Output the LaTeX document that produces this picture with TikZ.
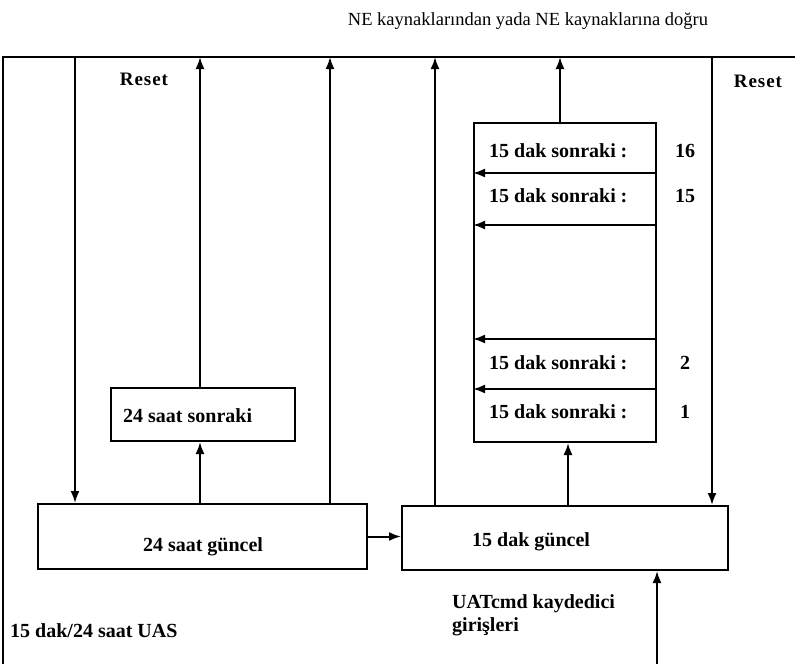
\documentclass[tikz,border=0pt]{standalone}
\usepackage{fontspec}
\setmainfont{Liberation Serif}
\usetikzlibrary{arrows.meta}

\tikzset{
  box/.style={draw, rectangle, line width=2pt, inner sep=0pt},
  flow/.style={line width=2pt, -{Latex[length=12pt,width=9pt]}},
  lbl/.style={font=\bfseries\fontsize{20}{22}\selectfont, inner sep=0pt},
}

\begin{document}
\begin{tikzpicture}[x=1pt, y=-1pt]
  \useasboundingbox (0,0) rectangle (795,664);
  \node[inner sep=0pt, anchor=base, font=\fontsize{18.5}{20}\selectfont] (title) at (528,25) {NE kaynaklarından yada NE kaynaklarına doğru};

  % outer frame
  \draw[line width=2pt] (3,664) -- (3,57) -- (795,57);
  \node[lbl, anchor=base, font=\bfseries\fontsize{19}{21}\selectfont\addfontfeatures{LetterSpace=5}] (resetL) at (144,85) {Reset};
  \node[lbl, anchor=base, font=\bfseries\fontsize{19}{21}\selectfont\addfontfeatures{LetterSpace=5}] (resetR) at (758,87) {Reset};
  \node[lbl, anchor=base west] (uas) at (10,637) {15 dak/24 saat UAS};

  % the boxes
  \node[box, minimum width=329pt, minimum height=65pt] (cur24) at (202.5,536.5) {};
  \node[box, minimum width=184pt, minimum height=53pt] (next24) at (203,414.5) {};
  \node[box, minimum width=326pt, minimum height=64pt] (cur15) at (565,538) {};
  \node[box, minimum width=182pt, minimum height=319pt] (stack) at (565,282.5) {};

  \node[lbl, anchor=base] (cur24txt) at (203,551) {24 saat güncel};
  \node[lbl, anchor=base west] (next24txt) at (123,422) {24 saat sonraki};
  \node[lbl, anchor=base west] (cur15txt) at (472,546) {15 dak güncel};
  \node[lbl, anchor=base west] (uat) at (452,608) {UATcmd kaydedici};
  \node[lbl, anchor=base west] (uat2) at (452,631) {girişleri};

  % the 15 minute registers
  \foreach \y/\n [count=\i] in {157/16,202/15,369/2,418/1} {
    \node[lbl, anchor=base west] (row\i) at (489,\y) {15 dak sonraki};
    \node[lbl, anchor=base] (col\i) at (624,\y) {:};
    \node[lbl, anchor=base] (num\i) at (685,\y) {\n};
  }
  \foreach \y in {173,225,339,389}
    \draw[flow] (stack.east |- 0,\y) -- (stack.west |- 0,\y);

  % Draw the connections
  \coordinate (rstL) at (75,57);
  \coordinate (rstR) at (712,57);
  \coordinate (up24) at (200,57);
  \coordinate (upA) at (330,57);
  \coordinate (upB) at (435,57);
  \coordinate (upC) at (560,57);
  \coordinate (in15) at (657,664);
  \draw[flow] (rstL) -- (rstL |- cur24.north);
  \draw[flow] (rstR) -- (rstR |- cur15.north);
  \draw[flow] (up24 |- next24.north) -- (up24);
  \draw[flow] (up24 |- cur24.north) -- (up24 |- next24.south);
  \draw[flow] (upA |- cur24.north) -- (upA);
  \draw[flow] (upB |- cur15.north) -- (upB);
  \draw[flow] (upC |- stack.north) -- (upC);
  \draw[flow] (568,0 |- cur15.north) -- (568,0 |- stack.south);
  \draw[flow] (cur24.east) -- (cur24.east -| cur15.west);
  \draw[flow] (in15) -- (in15 |- cur15.south);
\end{tikzpicture}
\end{document}
